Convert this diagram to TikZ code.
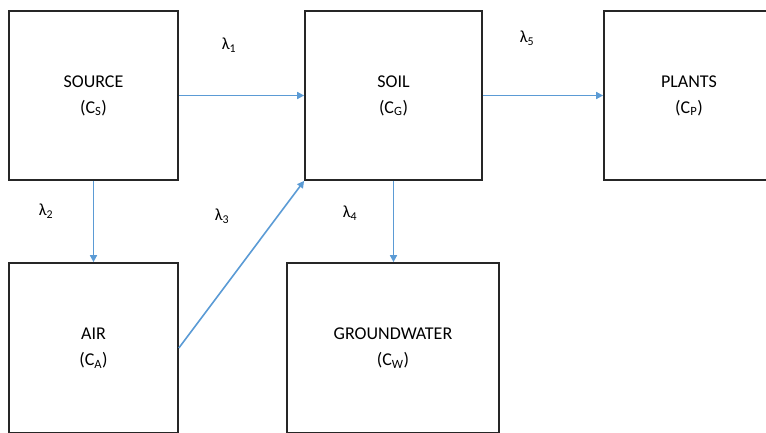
\documentclass[tikz,border=0pt]{standalone}
\usepackage{fontspec}
\setmainfont{Carlito}
\usetikzlibrary{arrows.meta}
\definecolor{arrowblue}{RGB}{91,155,213}
\begin{document}
\begin{tikzpicture}[x=1pt,y=-1pt,
  box/.style={draw=black!85,line width=1.7pt,minimum width=#1,inner sep=0pt,align=center,font=\fontsize{18}{26}\selectfont},
  flow/.style={draw=arrowblue,line width=1.6pt,-{Triangle[length=7pt,width=7pt]}},
  lab/.style={font=\fontsize{17}{18}\selectfont}]
\useasboundingbox (0,0) rectangle (766,433);
\clip (0,0) rectangle (766,433);
\node[box=169pt,minimum height=169pt] (source) at (93.5,95.5) {SOURCE\\(C\textsubscript{S})};
\node[box=177pt,minimum height=169pt] (soil) at (393.5,95.5) {SOIL\\(C\textsubscript{G})};
\node[box=170pt,minimum height=169pt] (plants) at (689,95.5) {PLANTS\\(C\textsubscript{P})};
\node[box=169pt,minimum height=170pt] (air) at (93.5,348) {AIR\\(C\textsubscript{A})};
\node[box=212pt,minimum height=170pt] (gw) at (393,348) {GROUNDWATER\\(C\textsubscript{W})};
\draw[flow] (source.east) -- (soil.west);
\draw[flow] (soil.east) -- (plants.west);
\draw[flow] (source.south) -- (air.north);
\draw[flow] (soil.south) -- (soil.south |- gw.north);
\draw[flow] (air.east) -- (soil.south west);
\node[lab] (l1) at (229,45) {λ\textsubscript{1}};
\node[lab] (l5) at (527,38) {λ\textsubscript{5}};
\node[lab] (l2) at (46,211) {λ\textsubscript{2}};
\node[lab] (l3) at (222,216) {λ\textsubscript{3}};
\node[lab] (l4) at (350,213) {λ\textsubscript{4}};
\end{tikzpicture}
\end{document}
